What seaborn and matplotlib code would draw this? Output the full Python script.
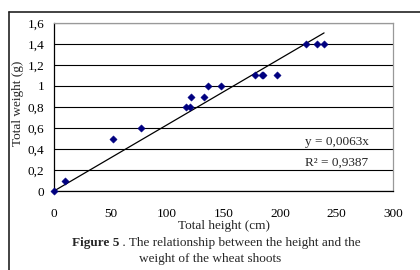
import numpy as np
import pandas as pd
import matplotlib
matplotlib.use("Agg")
import matplotlib.pyplot as plt
import seaborn as sns
from matplotlib.lines import Line2D
from matplotlib.ticker import FuncFormatter

# data
height = [0, 10, 52, 77, 117, 120, 121, 133, 136, 148, 178, 184, 185, 197, 223, 233, 239]
weight = [0, 0.1, 0.5, 0.6, 0.8, 0.8, 0.9, 0.9, 1.0, 1.0, 1.1, 1.1, 1.1, 1.1, 1.4, 1.4, 1.4]
slope = 0.0063
r2 = 0.9387

df = pd.DataFrame({"height": height, "weight": weight})

sns.set_style("white")
plt.rcParams["font.family"] = ["Liberation Serif", "DejaVu Serif"]
plt.rcParams["font.size"] = 9.5

fig = plt.figure(figsize=(4.2, 2.7), dpi=100)
ax = fig.add_axes([54 / 420, 1 - 191 / 270, 339 / 420, 168 / 270])

# outer frame (left and top edges of the box)
x0, y0 = 9 / 420, 1 - 12 / 270
fig.lines.append(Line2D([x0, x0], [0, y0], transform=fig.transFigure,
                        color="#222222", linewidth=1.2))
fig.lines.append(Line2D([x0, 1], [y0, y0], transform=fig.transFigure,
                        color="#222222", linewidth=1.2))

# trend line through origin
xs = np.array([0, max(height)])
sns.lineplot(x=xs, y=slope * xs, color="black", linewidth=0.9, ax=ax)

sns.scatterplot(data=df, x="height", y="weight", marker="D", color="#000080",
                edgecolor="#000080", s=14, ax=ax, zorder=3, clip_on=False)

ax.set_xlim(0, 300)
ax.set_ylim(0, 1.6)
ax.set_xticks(range(0, 301, 50))
ax.set_yticks(np.arange(0, 1.61, 0.2))
ax.yaxis.set_major_formatter(FuncFormatter(lambda v, p: f"{v:g}".replace(".", ",")))
ax.grid(axis="y", color="black", linewidth=0.8)
ax.set_axisbelow(True)
ax.tick_params(axis="both", direction="out", length=4, width=0.8, colors="black",
               labelsize=9.5, pad=3)
ax.tick_params(axis="x", pad=8)
for s in ["left", "bottom"]:
    ax.spines[s].set_color("black")
    ax.spines[s].set_linewidth(0.9)
for s in ["top", "right"]:
    ax.spines[s].set_color("#999999")
    ax.spines[s].set_linewidth(0.9)

ax.set_xlabel("Total height (cm)", fontsize=9.5)
ax.xaxis.set_label_coords(0.5, -0.17)
ax.set_ylabel("Total weight (g)", fontsize=9.5)
ax.yaxis.set_label_coords(-0.088, 0.52)

ax.text(250, 0.47, "y = 0,0063x", ha="center", va="center", fontsize=9.5)
ax.text(250, 0.27, "R² = 0,9387", ha="center", va="center", fontsize=9.5)

# caption: bold "Figure 5" followed by the normal text
cy = 1 - 243 / 270
t1 = fig.text(72 / 420, cy, "Figure 5", ha="left", va="center",
              fontsize=9.5, fontweight="bold")
fig.canvas.draw()
bb = t1.get_window_extent()
fig.text(bb.x1 / fig.bbox.width, cy,
         " . The relationship between the height and the",
         ha="left", va="center", fontsize=9.5)
fig.text(210 / 420, 1 - 259 / 270, "weight of the wheat shoots",
         ha="center", va="center", fontsize=9.5)

fig.savefig("out.png", dpi=100)
